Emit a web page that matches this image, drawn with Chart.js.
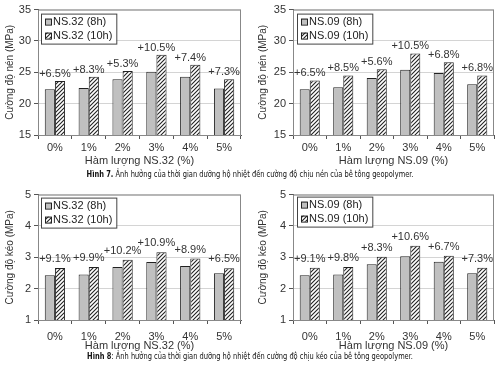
<!DOCTYPE html>
<html>
<head>
<meta charset="utf-8">
<script src="https://cdn.jsdelivr.net/npm/chart.js@4"></script>
<style>
  html, body { margin: 0; padding: 0; background: #fff; }
  #page { position: relative; width: 500px; height: 367px; overflow: hidden; }
  canvas { position: absolute; }
  .caption {
    position: absolute; left: 0; width: 500px; text-align: center;
    font-family: 'Liberation Sans Narrow', 'DejaVu Sans Condensed', 'Liberation Sans', sans-serif;
    font-size: 9.5px; color: #111; white-space: nowrap;
    transform: scaleX(0.78); transform-origin: 250px 0;
  }
  .caption b { font-weight: bold; }
</style>
</head>
<body>
<div id="page">
  <canvas id="c1" width="250" height="170" style="left:0;top:0"></canvas>
  <canvas id="c2" width="250" height="170" style="left:250px;top:0"></canvas>
  <canvas id="c3" width="250" height="168" style="left:0;top:185px"></canvas>
  <canvas id="c4" width="250" height="168" style="left:250px;top:185px"></canvas>
  <div class="caption" style="top:168px"><b>Hình 7.</b> Ảnh hưởng của thời gian dưỡng hộ nhiệt đến cường độ chịu nén của bê tông geopolymer.</div>
  <div class="caption" style="top:350px"><b>Hình 8</b>: Ảnh hưởng của thời gian dưỡng hộ nhiệt đến cường độ chịu kéo của bê tông geopolymer.</div>
</div>
<script>
// --- data ---
const categories = ['0%', '1%', '2%', '3%', '4%', '5%'];

const ns32Comp8h  = [22.3, 22.5, 23.9, 25.1, 24.3, 22.4];
const ns32Comp10h = [23.6, 24.3, 25.2, 27.8, 26.2, 23.9];
const ns32CompLabels = ['+6.5%', '+8.3%', '+5.3%', '+10.5%', '+7.4%', '+7.3%'];

const ns09Comp8h  = [22.3, 22.6, 24.1, 25.4, 24.9, 23.1];
const ns09Comp10h = [23.7, 24.5, 25.5, 28.0, 26.6, 24.5];
const ns09CompLabels = ['+6.5%', '+8.5%', '+5.6%', '+10.5%', '+6.8%', '+6.8%'];

const ns32Tens8h  = [2.43, 2.45, 2.69, 2.85, 2.72, 2.49];
const ns32Tens10h = [2.66, 2.69, 2.92, 3.16, 2.96, 2.65];
const ns32TensLabels = ['+9.1%', '+9.9%', '+10.2%', '+10.9%', '+8.9%', '+6.5%'];

const ns09Tens8h  = [2.43, 2.45, 2.78, 3.03, 2.86, 2.49];
const ns09Tens10h = [2.67, 2.69, 3.02, 3.37, 3.05, 2.67];
const ns09TensLabels = ['+9.1%', '+9.8%', '+8.3%', '+10.6%', '+6.7%', '+7.3%'];

const compTicks = { min: 15, max: 35, step: 5 };
const tensTicks = { min: 1, max: 5, step: 1 };

// --- styles ---
const FONT = "'Liberation Sans', Arial, sans-serif";
const TEXT = '#333';
const GRAY = '#c0c0c0';

// hatch pattern "////"
const makeHatch = () => {
    const c = document.createElement('canvas');
    c.width = 4; c.height = 4;
    const g = c.getContext('2d');
    g.fillStyle = '#fff';
    g.fillRect(0, 0, 4, 4);
    g.strokeStyle = '#222';
    g.lineWidth = 1.1;
    g.beginPath();
    g.moveTo(0, 4); g.lineTo(4, 0);
    g.moveTo(-1, 1); g.lineTo(1, -1);
    g.moveTo(3, 5); g.lineTo(5, 3);
    g.stroke();
    return g.createPattern(c, 'repeat');
};
const hatch = makeHatch();

// legend inside the plot, top left
const innerLegend = {
    id: 'innerLegend',
    afterDraw(chart, args, opts) {
        const ctx = chart.ctx;
        const a = chart.chartArea;
        const x = a.left + opts.dx, y = a.top + opts.dy;
        ctx.save();
        ctx.font = '11px ' + FONT;
        const w = Math.max(...chart.data.datasets.map(d => ctx.measureText(d.label).width)) + 16;
        const h = 30;
        ctx.fillStyle = '#fff';
        ctx.fillRect(x, y, w, h);
        ctx.strokeStyle = '#444';
        ctx.lineWidth = 1;
        ctx.strokeRect(x + 0.5, y + 0.5, w, h);
        chart.data.datasets.forEach((d, i) => {
            const cy = y + 8 + i * 14;
            ctx.fillStyle = d.backgroundColor;
            ctx.fillRect(x + 4, cy - 3, 6, 6);
            ctx.strokeStyle = '#222';
            ctx.strokeRect(x + 4.5, cy - 2.5, 6, 6);
            ctx.fillStyle = '#222';
            ctx.textBaseline = 'middle';
            ctx.fillText(d.label, x + 12, cy + 0.5);
        });
        ctx.restore();
    }
};

// percent labels above each pair + plot frame
const pctLabels = {
    id: 'pctLabels',
    afterDatasetsDraw(chart, args, opts) {
        const ctx = chart.ctx;
        const a = chart.chartArea;
        ctx.save();
        ctx.strokeStyle = '#888';
        ctx.lineWidth = 1;
        ctx.strokeRect(a.left + 0.5, a.top + 0.5, a.right - a.left - 1, a.bottom - a.top);
        ctx.font = '11px ' + FONT;
        ctx.fillStyle = TEXT;
        ctx.textAlign = 'center';
        ctx.textBaseline = 'alphabetic';
        const xs = chart.scales.x, ys = chart.scales.y;
        opts.labels.forEach((t, i) => {
            const top = Math.max(...chart.data.datasets.map(d => d.data[i]));
            ctx.fillText(t, xs.getPixelForValue(i), ys.getPixelForValue(top) - opts.gap);
        });
        ctx.restore();
    }
};

const makeChart = (id, cfg) => {
    new Chart(document.getElementById(id), {
        type: 'bar',
        data: {
            labels: categories,
            datasets: [
                { label: cfg.name + ' (8h)', data: cfg.s8, backgroundColor: GRAY, borderColor: '#222', borderWidth: 1 },
                { label: cfg.name + ' (10h)', data: cfg.s10, backgroundColor: hatch, borderColor: '#222', borderWidth: 1 }
            ]
        },
        options: {
            responsive: false,
            animation: false,
            devicePixelRatio: 1,
            layout: { padding: { left: 0, right: cfg.padRight, top: 9, bottom: 0 } },
            datasets: { bar: { categoryPercentage: 0.6, barPercentage: 1.0 } },
            plugins: {
                legend: { display: false },
                tooltip: { enabled: false },
                innerLegend: { dx: cfg.legDx, dy: cfg.legDy },
                pctLabels: { labels: cfg.labels, gap: cfg.gap }
            },
            scales: {
                x: {
                    grid: { display: true, drawOnChartArea: false, tickLength: 4, color: '#555' },
                    border: { color: '#555' },
                    ticks: { color: TEXT, font: { family: FONT, size: 11 }, padding: cfg.xPad, maxRotation: 0 },
                    title: { display: true, text: cfg.xTitle, color: TEXT, font: { family: FONT, size: 11 }, padding: { top: 0, bottom: cfg.xTitlePad } },
                    afterFit: s => { s.height = cfg.xHeight; }
                },
                y: {
                    min: cfg.ticks.min, max: cfg.ticks.max,
                    grid: { color: '#d4d4d4', tickLength: 4, tickColor: '#555' },
                    border: { color: '#555' },
                    ticks: { stepSize: cfg.ticks.step, color: TEXT, font: { family: FONT, size: 11 }, padding: 3 },
                    title: { display: true, text: cfg.yTitle, color: TEXT, font: { family: FONT, size: 10 }, padding: { top: cfg.yTitlePad, bottom: 0 } },
                    afterFit: s => { s.width = cfg.yWidth; }
                }
            }
        },
        plugins: [pctLabels, innerLegend]
    });
};

makeChart('c1', {
    name: 'NS.32', s8: ns32Comp8h, s10: ns32Comp10h, labels: ns32CompLabels, ticks: compTicks,
    xTitle: 'Hàm lượng NS.32 (%)', yTitle: 'Cường độ nén (MPa)',
    yWidth: 38, yTitlePad: 4, padRight: 9, xHeight: 35, xPad: 2, xTitlePad: 2,
    legDx: 3, legDy: 4, gap: 4
});
makeChart('c2', {
    name: 'NS.09', s8: ns09Comp8h, s10: ns09Comp10h, labels: ns09CompLabels, ticks: compTicks,
    xTitle: 'Hàm lượng NS.09 (%)', yTitle: 'Cường độ nén (MPa)',
    yWidth: 43, yTitlePad: 7, padRight: 6, xHeight: 35, xPad: 2, xTitlePad: 2,
    legDx: 4, legDy: 4, gap: 4
});
makeChart('c3', {
    name: 'NS.32', s8: ns32Tens8h, s10: ns32Tens10h, labels: ns32TensLabels, ticks: tensTicks,
    xTitle: 'Hàm lượng NS.32 (%)', yTitle: 'Cường độ kéo (MPa)',
    yWidth: 38, yTitlePad: 4, padRight: 9, xHeight: 33, xPad: 6, xTitlePad: 0,
    legDx: 3, legDy: 3, gap: 6
});
makeChart('c4', {
    name: 'NS.09', s8: ns09Tens8h, s10: ns09Tens10h, labels: ns09TensLabels, ticks: tensTicks,
    xTitle: 'Hàm lượng NS.09 (%)', yTitle: 'Cường độ kéo (MPa)',
    yWidth: 43, yTitlePad: 7, padRight: 6, xHeight: 33, xPad: 6, xTitlePad: 0,
    legDx: 4, legDy: 2, gap: 6
});
</script>
</body>
</html>
